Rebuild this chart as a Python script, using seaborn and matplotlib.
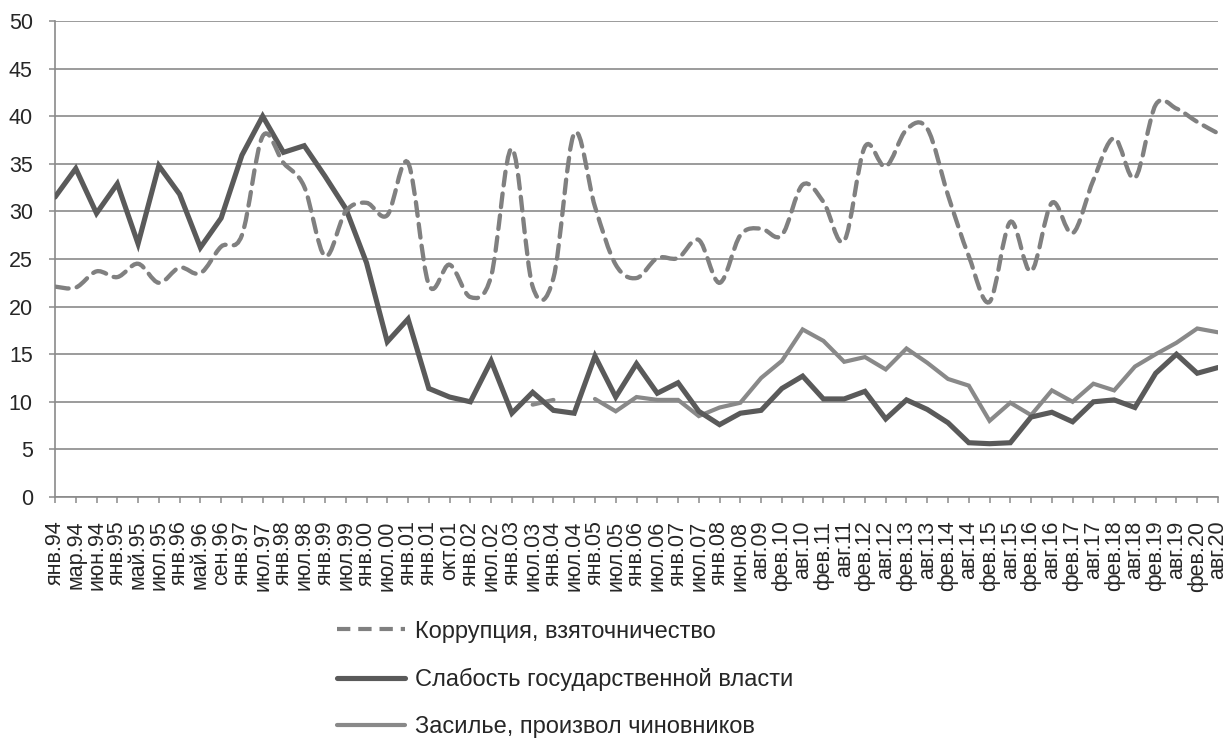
import numpy as np
import pandas as pd
import matplotlib
matplotlib.use("Agg")
import matplotlib.pyplot as plt
from matplotlib.path import Path
from matplotlib.patches import PathPatch
from matplotlib.lines import Line2D
import seaborn as sns

# ---------------- data ----------------
categories = [
    "янв.94", "мар.94", "июн.94", "янв.95", "май.95", "июл.95", "янв.96", "май.96",
    "сен.96", "янв.97", "июл.97", "янв.98", "июл.98", "янв.99", "июл.99", "янв.00",
    "июл.00", "янв.01", "янв.01", "окт.01", "янв.02", "июл.02", "янв.03", "июл.03",
    "янв.04", "июл.04", "янв.05", "июл.05", "янв.06", "июл.06", "янв.07", "июл.07",
    "янв.08", "июн.08", "авг.09", "фев.10", "авг.10", "фев.11", "авг.11", "фев.12",
    "авг.12", "фев.13", "авг.13", "фев.14", "авг.14", "фев.15", "авг.15", "фев.16",
    "авг.16", "фев.17", "авг.17", "фев.18", "авг.18", "фев.19", "авг.19", "фев.20",
    "авг.20",
]

corruption = [
    22.1, 22.0, 23.7, 23.1, 24.5, 22.5, 24.1, 23.5, 26.3, 27.5,
    37.9, 35.1, 32.6, 25.3, 30.0, 30.9, 29.6, 35.1, 22.3, 24.4,
    21.0, 23.2, 36.6, 22.1, 23.0, 38.2, 30.5, 24.4, 23.0, 25.1,
    25.1, 27.0, 22.5, 27.5, 28.2, 27.5, 32.8, 31.0, 26.9, 36.8,
    34.7, 38.6, 38.7, 31.7, 25.3, 20.5, 28.9, 23.7, 30.9, 27.7,
    33.3, 37.7, 33.5, 41.2, 40.8, 39.4, 38.2,
]

weakness = [
    31.5, 34.5, 29.8, 32.9, 26.6, 34.8, 31.8, 26.2, 29.3, 35.9,
    40.0, 36.2, 36.9, 33.7, 30.3, 24.6, 16.3, 18.7, 11.4, 10.5,
    10.0, 14.3, 8.8, 11.0, 9.1, 8.8, 14.8, 10.5, 14.0, 10.9,
    12.0, 9.0, 7.6, 8.8, 9.1, 11.4, 12.7, 10.3, 10.3, 11.1,
    8.2, 10.2, 9.2, 7.8, 5.7, 5.6, 5.7, 8.4, 8.9, 7.9,
    10.0, 10.2, 9.4, 13.0, 15.0, 13.0, 13.6,
]

nan = np.nan
officials = [nan] * 23 + [
    9.7, 10.2, nan, 10.3, 9.0, 10.5, 10.2, 10.2, 8.5, 9.4,
    9.9, 12.5, 14.3, 17.6, 16.4, 14.2, 14.7, 13.4, 15.6, 14.1,
    12.4, 11.7, 8.0, 9.9, 8.6, 11.2, 10.0, 11.9, 11.2, 13.7,
    15.0, 16.2, 17.7, 17.3,
]

series_names = [
    "Коррупция, взяточничество",
    "Слабость государственной власти",
    "Засилье, произвол чиновников",
]
yticks = [0, 5, 10, 15, 20, 25, 30, 35, 40, 45, 50]

# ---------------- style ----------------
sns.set_style("white")
plt.rcParams["font.family"] = ["Liberation Sans", "DejaVu Sans"]

c_dash = "#808080"
c_dark = "#5a5a5a"
c_light = "#898989"
c_grid = "#8a8a8a"

W, H = 1229, 738
fig = plt.figure(figsize=(W / 100, H / 100), dpi=100)
ax = fig.add_axes([55 / W, 1 - 497 / H, (1218 - 55) / W, (497 - 21) / H])

x = np.arange(len(categories))
df = pd.DataFrame({"x": x, "corr": corruption, "weak": weakness, "off": officials})

# solid dark series
sns.lineplot(data=df, x="x", y="weak", ax=ax, color=c_dark, linewidth=3.7,
             solid_joinstyle="miter", zorder=4)

# light series, drawn run by run to keep the gaps
valid = ~df["off"].isna()
run_id = (valid != valid.shift()).cumsum()
for _, seg in df[valid].groupby(run_id[valid]):
    sns.lineplot(data=seg, x="x", y="off", ax=ax, color=c_light, linewidth=3.0,
                 solid_joinstyle="miter", zorder=3)

# dashed, smoothed series (Excel-style smoothed line, Catmull-Rom Bezier)
px = df["x"].to_numpy(float)
py = df["corr"].to_numpy(float)
verts = [(px[0], py[0])]
codes = [Path.MOVETO]
n = len(px)
for i in range(n - 1):
    p0 = np.array([px[max(i - 1, 0)], py[max(i - 1, 0)]])
    p1 = np.array([px[i], py[i]])
    p2 = np.array([px[i + 1], py[i + 1]])
    p3 = np.array([px[min(i + 2, n - 1)], py[min(i + 2, n - 1)]])
    c1 = p1 + (p2 - p0) / 6.0
    c2 = p2 - (p3 - p1) / 6.0
    verts += [tuple(c1), tuple(c2), tuple(p2)]
    codes += [Path.CURVE4] * 3
patch = PathPatch(Path(verts, codes), facecolor="none", edgecolor=c_dash,
                  linewidth=3.1, linestyle=(0, (3.2, 1.9)), capstyle="round",
                  zorder=5)
ax.add_patch(patch)

# axes
ax.set_xlim(0, len(categories) - 1)
ax.set_ylim(0, 50)
ax.set_yticks(yticks)
ax.set_xticks(x)
ax.set_xticklabels(categories)
ax.set_xlabel("")
ax.set_ylabel("")
ax.yaxis.grid(True, color=c_grid, linewidth=1.2)
ax.xaxis.grid(False)
ax.set_axisbelow(True)
for s in ["top", "right"]:
    ax.spines[s].set_visible(False)
for s in ["left", "bottom"]:
    ax.spines[s].set_color(c_grid)
    ax.spines[s].set_linewidth(1.2)
ax.tick_params(axis="x", which="major", direction="out", length=4, width=1.1,
               color=c_grid, labelsize=15.5, pad=13, bottom=True)
ax.tick_params(axis="y", which="major", direction="out", length=4, width=1.1,
               color=c_grid, labelsize=15.5, pad=12, left=True)
plt.setp(ax.get_xticklabels(), rotation=90, ha="center", va="top")

# legend
handles = [
    Line2D([], [], color=c_dash, linewidth=3.0, linestyle=(0, (3.2, 1.9))),
    Line2D([], [], color=c_dark, linewidth=3.7),
    Line2D([], [], color=c_light, linewidth=3.0),
]
fig.legend(handles, series_names, loc="upper left",
           bbox_to_anchor=(320 / W, 1 - 604 / H), frameon=False, fontsize=17,
           handlelength=2.9, handletextpad=0.42, labelspacing=1.07,
           borderpad=0.2)

fig.savefig("out.png", dpi=100)
